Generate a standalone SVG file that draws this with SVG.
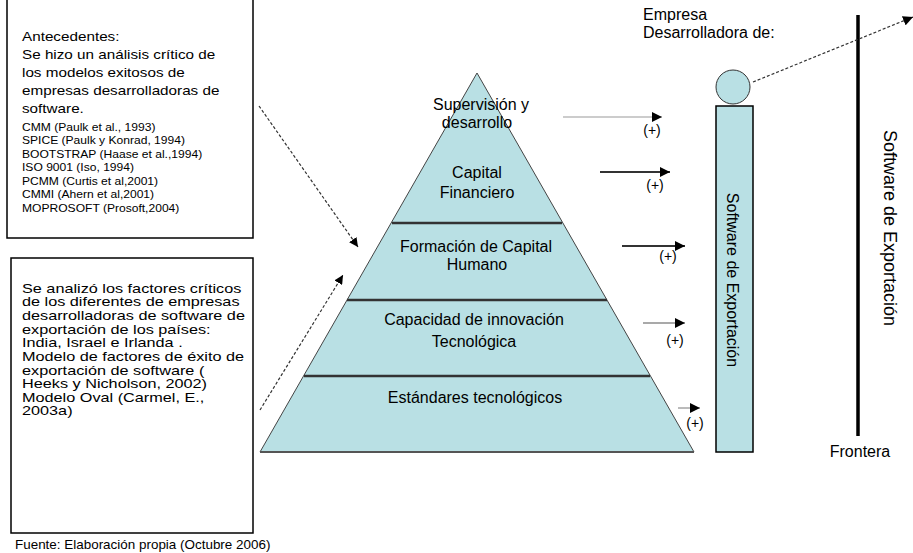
<svg xmlns="http://www.w3.org/2000/svg" width="913" height="553" viewBox="0 0 913 553">
<defs>
<marker id="ah" viewBox="0 0 10 10" refX="10" refY="5" markerWidth="10" markerHeight="10" markerUnits="userSpaceOnUse" orient="auto"><path d="M0,0 L10,5 L0,10 z" fill="#000"/></marker>
<marker id="ahs" viewBox="0 0 10 10" refX="10" refY="5" markerWidth="9" markerHeight="9" markerUnits="userSpaceOnUse" orient="auto"><path d="M0,0 L10,5 L0,10 z" fill="#000"/></marker>
<style>
.box{fill:#fff;stroke:#000;stroke-width:1.5}
.bt{font-family:"Liberation Sans",Arial,sans-serif;font-size:12.5px;fill:#000}
.bs{font-family:"Liberation Sans",Arial,sans-serif;font-size:11.5px;fill:#000}
.pt{font-family:"Liberation Sans",Arial,sans-serif;font-size:16px;fill:#000;text-anchor:middle}
.rt{font-family:"Liberation Sans",Arial,sans-serif;font-size:16px;fill:#000}
.pl{font-family:"Liberation Sans",Arial,sans-serif;font-size:14px;fill:#000;text-anchor:middle}
.fill{fill:#b9e0e4}
.tier{stroke:#333;stroke-width:2.5}
.dash{stroke:#333;stroke-width:1.2;stroke-dasharray:3,2;fill:none}
</style>
</defs>

<g id="antecedentes">
<rect class="box" x="7" y="-2" width="246" height="240"/>
<g transform="translate(22,0) scale(1.22,1)">
<text class="bt" x="0" y="41">Antecedentes:</text>
<text class="bt" x="0" y="59">Se hizo un análisis crítico de</text>
<text class="bt" x="0" y="77">los modelos exitosos de</text>
<text class="bt" x="0" y="95">empresas  desarrolladoras de</text>
<text class="bt" x="0" y="113">software.</text>
</g>
<g transform="translate(22,0) scale(1.05,1)">
<text class="bs" x="0" y="131">CMM (Paulk et al., 1993)</text>
<text class="bs" x="0" y="144.5">SPICE (Paulk y Konrad, 1994)</text>
<text class="bs" x="0" y="158">BOOTSTRAP (Haase et al.,1994)</text>
<text class="bs" x="0" y="171.5">ISO 9001 (Iso, 1994)</text>
<text class="bs" x="0" y="185">PCMM (Curtis et al,2001)</text>
<text class="bs" x="0" y="198.5">CMMI (Ahern et al,2001)</text>
<text class="bs" x="0" y="212">MOPROSOFT (Prosoft,2004)</text>
</g>
</g>

<g id="factores">
<rect class="box" x="11" y="258" width="242" height="275"/>
<g transform="translate(22,0) scale(1.3,1)">
<text class="bt" x="0" y="293">Se analizó los factores críticos</text>
<text class="bt" x="0" y="306.5">de los diferentes de empresas</text>
<text class="bt" x="0" y="320.5">desarrolladoras de software de</text>
<text class="bt" x="0" y="334">exportación de los países:</text>
<text class="bt" x="0" y="347.5">India, Israel e Irlanda .</text>
<text class="bt" x="0" y="361">Modelo de factores de éxito de</text>
<text class="bt" x="0" y="375">exportación de software (</text>
<text class="bt" x="0" y="388.5">Heeks y Nicholson, 2002)</text>
<text class="bt" x="0" y="402">Modelo Oval (Carmel, E.,</text>
<text class="bt" x="0" y="415">2003a)</text>
</g>
</g>

<g id="piramide">
<path class="fill" d="M477,73 L694,452 L260,452 Z" stroke="#444" stroke-width="1"/>
<line class="tier" x1="392" y1="223" x2="562" y2="223"/>
<line class="tier" x1="347" y1="300" x2="607" y2="300"/>
<line class="tier" x1="304" y1="376" x2="650" y2="376"/>
<line x1="260" y1="452" x2="694" y2="452" stroke="#555" stroke-width="2"/>
<text class="pt" x="481" y="110">Supervisión y</text>
<text class="pt" x="477" y="128">desarrollo</text>
<text class="pt" x="477" y="178">Capital</text>
<text class="pt" x="477" y="198">Financiero</text>
<text class="pt" x="476" y="252">Formación de Capital</text>
<text class="pt" x="477" y="270">Humano</text>
<text class="pt" x="474" y="325">Capacidad de innovación</text>
<text class="pt" x="474" y="347">Tecnológica</text>
<text class="pt" x="475" y="403">Estándares tecnológicos</text>
</g>

<g id="empresa">
<text class="rt" x="643" y="20">Empresa</text>
<text class="rt" x="643" y="38">Desarrolladora de:</text>
<circle class="fill" cx="733" cy="87" r="17" stroke="#333" stroke-width="1"/>
<rect class="fill" x="716" y="106" width="37" height="346" stroke="#000" stroke-width="1.5"/>
<text class="rt" transform="translate(727,280) rotate(90)" text-anchor="middle">Software de Exportación</text>
</g>

<g id="frontera">
<line x1="858" y1="15" x2="858" y2="436" stroke="#000" stroke-width="3.5"/>
<text class="rt" x="860" y="457" text-anchor="middle">Frontera</text>
<text class="rt" style="font-size:18px" transform="translate(884,228) rotate(90)" text-anchor="middle">Software de Exportación</text>
</g>

<g id="conectores">
<line class="dash" x1="259" y1="106" x2="358" y2="247" marker-end="url(#ahs)"/>
<line class="dash" x1="260" y1="410" x2="343" y2="275" marker-end="url(#ahs)"/>
<line class="dash" x1="753" y1="82" x2="913" y2="17" marker-end="url(#ah)"/>
<line x1="563" y1="117" x2="662" y2="117" stroke="#999" stroke-width="1" marker-end="url(#ah)"/>
<line x1="600" y1="172" x2="670" y2="172" stroke="#333" stroke-width="2" marker-end="url(#ah)"/>
<line x1="622" y1="246" x2="685" y2="246" stroke="#333" stroke-width="2" marker-end="url(#ah)"/>
<line x1="643" y1="323" x2="685" y2="323" stroke="#555" stroke-width="1.2" marker-end="url(#ah)"/>
<line x1="678" y1="408" x2="700" y2="408" stroke="#777" stroke-width="1" marker-end="url(#ah)"/>
<text class="pl" x="652" y="135">(+)</text>
<text class="pl" x="655" y="190">(+)</text>
<text class="pl" x="668" y="261">(+)</text>
<text class="pl" x="675" y="345">(+)</text>
<text class="pl" x="695" y="428">(+)</text>
</g>

<text x="0" y="549" font-family="Liberation Sans, Arial, sans-serif" font-size="12" transform="translate(15,0) scale(1.12,1)" fill="#000">Fuente: Elaboración propia (Octubre 2006)</text>
</svg>
